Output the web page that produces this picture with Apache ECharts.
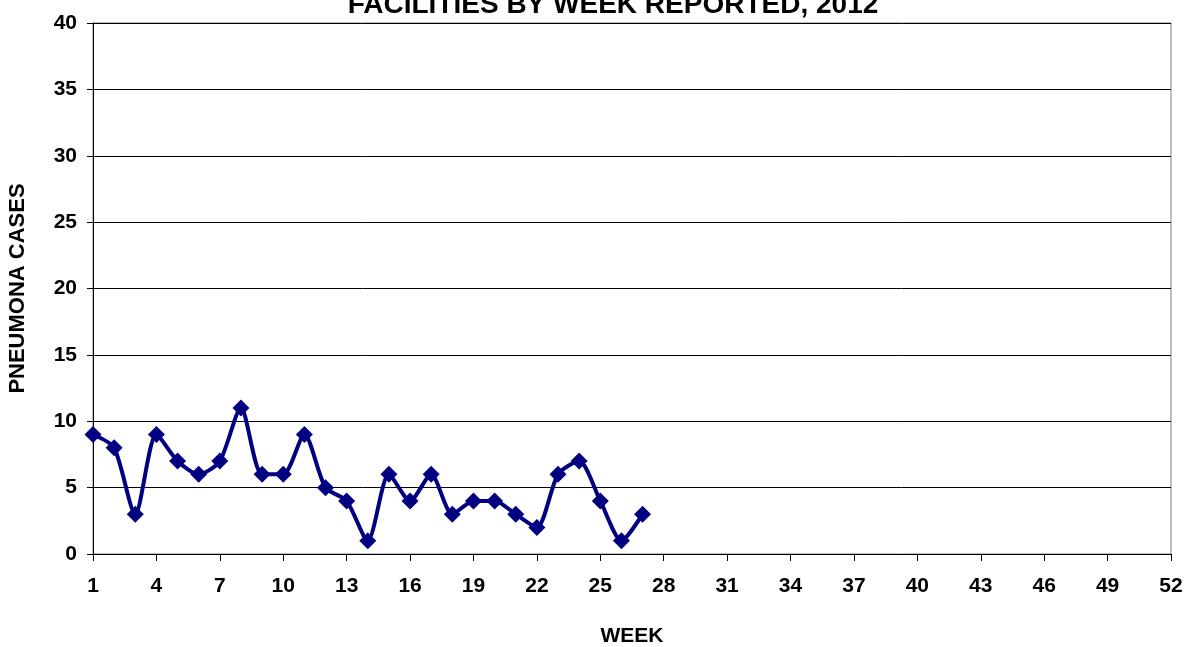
<!DOCTYPE html>
<html>
<head>
<meta charset="utf-8">
<script src="https://cdn.jsdelivr.net/npm/echarts@6/dist/echarts.min.js"></script>
<style>html,body{margin:0;padding:0;background:#fff}#c{width:1188px;height:647px}</style>
</head>
<body>
<div id="c"></div>
<script>
const weeks = Array.from({length: 52}, (_, i) => String(i + 1));
const cases = [9, 8, 3, 9, 7, 6, 7, 11, 6, 6, 9, 5, 4, 1, 6, 4, 6, 3, 4, 4, 3, 2, 6, 7, 4, 1, 3];
const yTicks = [0, 5, 10, 15, 20, 25, 30, 35, 40];

const chart = echarts.init(document.getElementById('c'));
const font = 'Liberation Sans, Arial, sans-serif';
chart.setOption({
  animation: false,
  title: {
    text: 'FACILITIES BY WEEK REPORTED, 2012',
    left: 608, textAlign: 'center', top: -14,
    textStyle: {fontFamily: font, fontWeight: 'bold', fontSize: 28, color: '#000'}
  },
  grid: {left: 93, right: 17, top: 23, bottom: 93, containLabel: false, outerBoundsMode: 'none',
    show: true, borderColor: '#808080', borderWidth: 1, backgroundColor: 'transparent'},
  xAxis: {
    type: 'category', data: weeks, boundaryGap: false,
    name: 'WEEK', nameLocation: 'middle', nameGap: 72,
    nameTextStyle: {fontFamily: font, fontWeight: 'bold', fontSize: 21, color: '#000'},
    axisLine: {lineStyle: {color: '#000', width: 1}},
    axisTick: {interval: 2, length: 7, lineStyle: {color: '#000'}},
    axisLabel: {interval: 2, margin: 22, fontFamily: font, fontWeight: 'bold', fontSize: 21, color: '#000'}
  },
  yAxis: {
    type: 'value', min: 0, max: 40, interval: 5,
    name: 'PNEUMONA CASES', nameLocation: 'middle', nameGap: 64,
    nameTextStyle: {fontFamily: font, fontWeight: 'bold', fontSize: 22, color: '#000'},
    axisLine: {show: true, lineStyle: {color: '#000', width: 1}},
    axisTick: {show: true, length: 6, lineStyle: {color: '#000'}},
    axisLabel: {margin: 16, fontFamily: font, fontWeight: 'bold', fontSize: 21, color: '#000',
      formatter: v => yTicks.includes(v) ? String(v) : ''},
    splitLine: {show: true, lineStyle: {color: '#000', width: 1}}
  },
  series: [{
    type: 'line', data: cases, smooth: 0.25, showAllSymbol: true,
    symbol: 'diamond', symbolSize: 17,
    lineStyle: {color: '#000080', width: 4},
    itemStyle: {color: '#000080'}
  }]
});
</script>
</body>
</html>
